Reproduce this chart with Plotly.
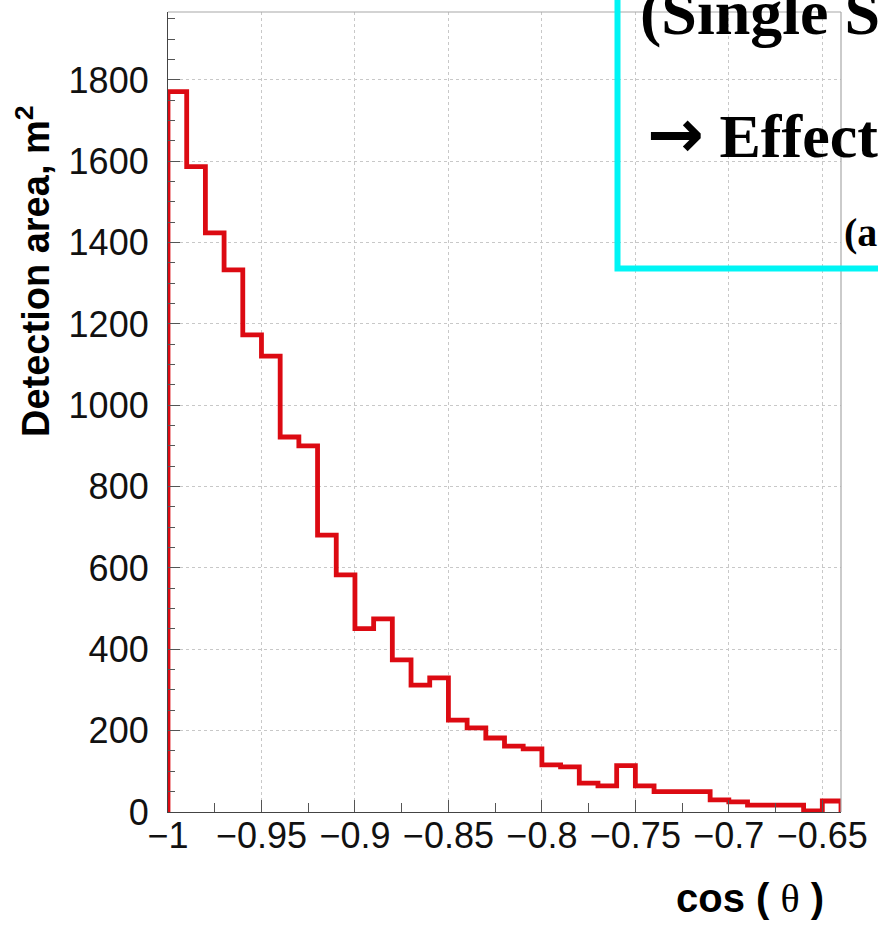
import numpy as np
import plotly.graph_objects as go

# Histogram of detection area vs cos(theta): 36 bins of width 0.01 starting at -1
bin_start = -1.0
bin_width = 0.01
detection_area = [1771, 1587, 1424, 1333, 1173, 1121, 922, 900, 681, 583,
                  451, 475, 374, 312, 330, 226, 207, 182, 162, 155,
                  116, 111, 71, 64, 114, 64, 50, 50, 50, 30,
                  25, 17, 17, 17, 3, 27]

x_tick_vals = [-1, -0.95, -0.9, -0.85, -0.8, -0.75, -0.7, -0.65]
x_tick_text = ["\u22121", "\u22120.95", "\u22120.9", "\u22120.85", "\u22120.8",
               "\u22120.75", "\u22120.7", "\u22120.65"]
y_tick_vals = [0, 200, 400, 600, 800, 1000, 1200, 1400, 1600, 1800]
y_tick_text = [str(v) for v in y_tick_vals]

x_title = "cos ( <span style='font-family:Liberation Serif;font-weight:normal'>\u03b8</span> )"
y_title = "Detection area, m<sup>2</sup>"
box_lines = ["(Single S",
             "<span style='font-family:DejaVu Sans;font-size:68px'>\u2192</span> Effective",
             "(a"]

# step outline: rise from zero at the first edge, fall back to zero at the last
n_bins = len(detection_area)
edges = bin_start + bin_width * np.arange(n_bins + 1)
xs = np.concatenate([[edges[0]], edges])
ys = np.concatenate([[0], detection_area, [0]])

W, H = 878, 925
L, R, T, B = 168, 37, 12, 113
pw, ph = W - L - R, H - T - B

def px(x):
    return (x - L) / pw

def py(y):
    return (H - B - y) / ph

fig = go.Figure()
fig.add_trace(go.Scatter(
    x=xs, y=ys, mode="lines", line_shape="hv",
    line=dict(color="#dc0a12", width=4.8),
    hoverinfo="skip", showlegend=False, cliponaxis=False,
))

tick_font = dict(family="Liberation Sans, Arial, sans-serif", size=36, color="#111111")
axis_common = dict(
    showline=True, linecolor="#444444", linewidth=1.2, mirror=False,
    ticks="inside", ticklen=12, tickwidth=1, tickcolor="#555555",
    showgrid=True, gridcolor="#c8c8c8", griddash="dot", gridwidth=1,
    zeroline=False, tickfont=tick_font, tickangle=0,
)

fig.update_xaxes(
    range=[edges[0], edges[-1]], tickvals=x_tick_vals, ticktext=x_tick_text,
    minor=dict(ticks="inside", dtick=0.025, tick0=-1, ticklen=9, tickcolor="#555555", showgrid=False),
    ticklabelstandoff=-8, **axis_common,
)
fig.update_yaxes(
    range=[0, 1967], tickvals=y_tick_vals, ticktext=y_tick_text,
    minor=dict(ticks="inside", dtick=50, tick0=0, ticklen=7, tickcolor="#555555", showgrid=False),
    ticklabelstandoff=11, **axis_common,
)

# light frame on the top and right sides
fig.add_shape(type="line", xref="paper", yref="paper", x0=0, x1=1, y0=1, y1=1,
              line=dict(color="#a8a8a8", width=1.2))
fig.add_shape(type="line", xref="paper", yref="paper", x0=1, x1=1, y0=0, y1=1,
              line=dict(color="#a8a8a8", width=1.2))

# cyan call-out box in the top right corner
fig.add_shape(type="rect", xref="paper", yref="paper",
              x0=px(617.5), x1=px(900), y0=py(268.5), y1=py(-20),
              line=dict(color="#00f5f5", width=6), fillcolor="rgba(0,0,0,0)", layer="above")

serif_bold = "Liberation Serif, Times New Roman, serif"
fig.add_annotation(x=px(638), y=py(13), xref="paper", yref="paper", xanchor="left", yanchor="middle",
                   text="<b>%s</b>" % box_lines[0], showarrow=False,
                   font=dict(family=serif_bold, size=64, color="black"))
fig.add_annotation(x=px(645), y=py(133), xref="paper", yref="paper", xanchor="left", yanchor="middle",
                   text="<b>%s</b>" % box_lines[1], showarrow=False,
                   font=dict(family=serif_bold, size=62, color="black"))
fig.add_annotation(x=px(842), y=py(232), xref="paper", yref="paper", xanchor="left", yanchor="middle",
                   text="<b>%s</b>" % box_lines[2], showarrow=False,
                   font=dict(family=serif_bold, size=40, color="black"))

# axis titles
title_font = dict(family="Liberation Sans, Arial, sans-serif", size=38, color="black")
fig.add_annotation(x=px(33), y=py(271), xref="paper", yref="paper", xanchor="center", yanchor="middle",
                   text="<b>%s</b>" % y_title, textangle=-90, showarrow=False, font=title_font)
fig.add_annotation(x=px(750), y=py(899), xref="paper", yref="paper", xanchor="center", yanchor="middle",
                   text="<b>%s</b>" % x_title, showarrow=False,
                   font=dict(family="Liberation Sans, Arial, sans-serif", size=40, color="black"))

fig.update_layout(
    width=W, height=H, margin=dict(l=L, r=R, t=T, b=B, autoexpand=False),
    paper_bgcolor="white", plot_bgcolor="white", showlegend=False,
)

fig.write_html("out.html")
